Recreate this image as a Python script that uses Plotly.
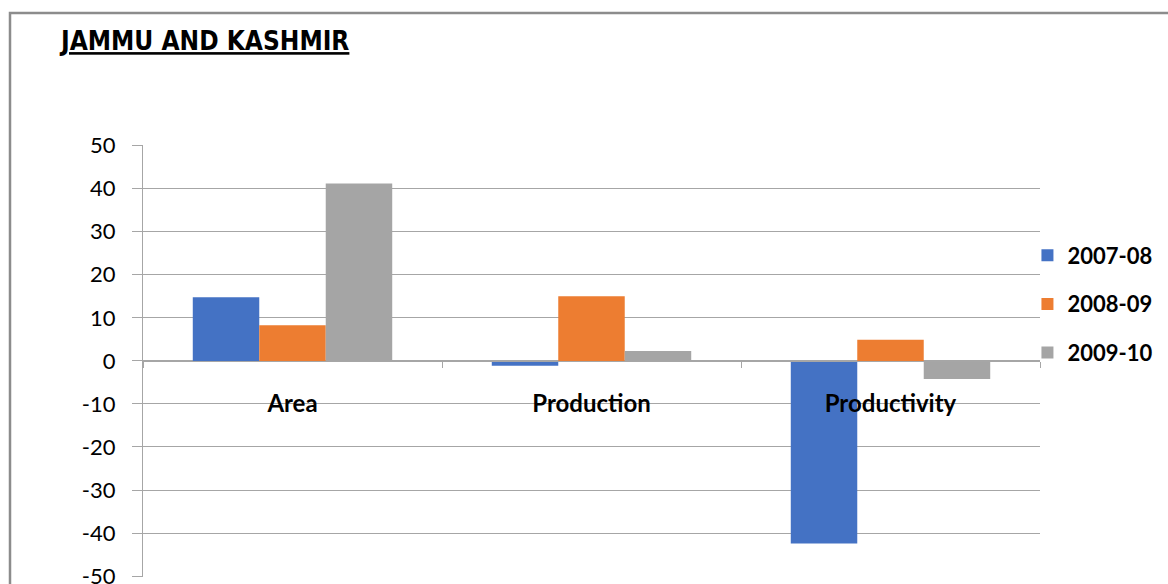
import plotly.graph_objects as go

# Year-on-year growth (%) for Jammu and Kashmir
categories = ["Area", "Production", "Productivity"]
series_names = ["2007-08", "2008-09", "2009-10"]
growth_2007_08 = [14.8, -1.1, -42.4]
growth_2008_09 = [8.3, 15.0, 4.9]
growth_2009_10 = [41.2, 2.3, -4.2]
y_ticks = [50, 40, 30, 20, 10, 0, -10, -20, -30, -40, -50]

colors = ["#4472C4", "#ED7D31", "#A5A5A5"]
values = [growth_2007_08, growth_2008_09, growth_2009_10]

grid = "#a6a6a6"
base_font = "Lato, 'Open Sans', sans-serif"

fig = go.Figure()
for name, vals, col in zip(series_names, values, colors):
    fig.add_trace(go.Bar(
        x=categories, y=vals, name=name, marker_color=col,
        marker_line_width=0, legendgroup=name,
    ))

fig.update_layout(
    width=1168, height=584,
    margin=dict(l=143, r=128, t=145, b=7, autoexpand=False),
    paper_bgcolor="white", plot_bgcolor="white",
    bargap=0.333, bargroupgap=0,
    font=dict(family=base_font, color="black"),
    title=dict(
        text="<b><u>JAMMU AND KASHMIR</u></b>",
        font=dict(family="'DejaVu Sans Condensed', sans-serif", size=26, color="black"),
        xref="container", yref="container",
        x=61 / 1168, xanchor="left", y=1 - 41 / 584, yanchor="middle",
        automargin=False,
    ),
    legend=dict(
        x=0.986, xanchor="left", y=0.632, yanchor="middle",
        font=dict(size=22, family=base_font, weight="bold"),
        tracegroupgap=17, bgcolor="rgba(0,0,0,0)",
    ),
    xaxis=dict(
        anchor="free", position=0.5, automargin=False,
        showline=True, linecolor=grid, linewidth=1.3,
        ticks="outside", tickson="boundaries", ticklen=6, tickcolor=grid, tickwidth=1.3,
        ticklabelstandoff=21,
        tickfont=dict(size=24, family=base_font, weight="bold"),
        showgrid=False,
    ),
    yaxis=dict(
        range=[-50.2, 50.15], automargin=False,
        tickvals=y_ticks, ticktext=[str(v) for v in y_ticks],
        ticklabeloverflow="allow",
        showgrid=True, gridcolor=grid, gridwidth=1.3,
        zeroline=False,
        showline=True, linecolor=grid, linewidth=1.3,
        ticks="outside", ticklen=10, tickcolor=grid, tickwidth=1.3,
        ticklabelstandoff=12,
        tickfont=dict(size=22, family=base_font),
    ),
    shapes=[dict(
        type="rect", xref="paper", yref="paper",
        x0=(10 - 143) / 897, x1=1.3, y0=-0.2, y1=(577 - 13) / 432,
        line=dict(color="#8c8c8c", width=2.5), fillcolor="rgba(0,0,0,0)",
        layer="below",
    )],
)

fig.write_html("out.html")
